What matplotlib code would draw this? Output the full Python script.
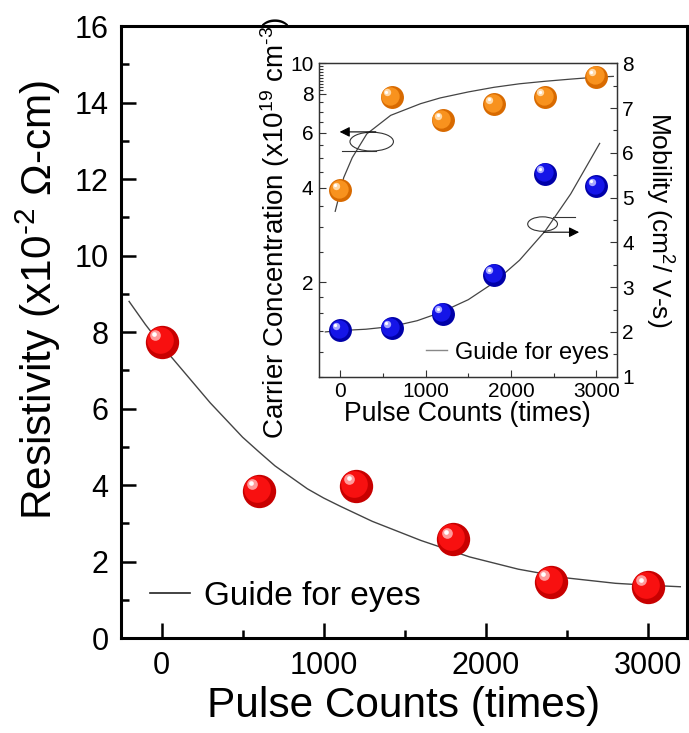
import matplotlib
matplotlib.use("Agg")
import matplotlib.pyplot as plt
from matplotlib.lines import Line2D
from matplotlib.patches import Ellipse
from matplotlib.ticker import MultipleLocator, FixedLocator, FixedFormatter, LogLocator, NullFormatter
from matplotlib.transforms import offset_copy

plt.rcParams['font.family'] = ['Liberation Sans', 'DejaVu Sans']
plt.rcParams['mathtext.fontset'] = 'custom'
plt.rcParams['mathtext.rm'] = 'Liberation Sans'
plt.rcParams['mathtext.it'] = 'Liberation Sans'

# main panel: resistivity
pulses = [0, 600, 1200, 1800, 2400, 3000]
resistivity = [7.75, 3.85, 3.98, 2.58, 1.47, 1.33]
guide_x = [-200, -100, 0, 100, 200, 300, 400, 500, 600, 700, 800, 900, 1000, 1100,
           1300, 1600, 1900, 2200, 2500, 2800, 3000, 3200]
guide_y = [8.8, 8.2, 7.65, 7.15, 6.65, 6.15, 5.7, 5.25, 4.87, 4.5, 4.2, 3.9, 3.66, 3.45,
           3.05, 2.55, 2.12, 1.8, 1.57, 1.43, 1.38, 1.34]

# inset: carrier concentration (log, left) and mobility (right)
carrier = [3.93, 7.8, 6.57, 7.4, 7.8, 9.06]
mobility = [2.04, 2.08, 2.41, 3.28, 5.53, 5.25]
carrier_gx = [-60, 40, 140, 310, 590, 940, 1170, 1500, 1800, 2100, 2400, 2700, 3000, 3200]
carrier_gy = [3.37, 4.32, 5.0, 5.95, 6.82, 7.43, 7.75, 8.1, 8.38, 8.6, 8.76, 8.9, 9.03, 9.08]
mob_gx = [-176, 0, 300, 600, 900, 1170, 1500, 1800, 2100, 2400, 2700, 3040]
mob_gy = [2.0, 2.03, 2.06, 2.12, 2.25, 2.43, 2.72, 3.1, 3.6, 4.25, 5.08, 6.21]


def spheres(ax, x, y, size, base, dark, light):
    fig = ax.figure
    ax.plot(x, y, 'o', ms=size, color=dark, mec='none', zorder=5, clip_on=False)
    sh = offset_copy(ax.transData, fig=fig, x=-size * 0.06, y=size * 0.06, units='points')
    ax.plot(x, y, 'o', ms=size * 0.8, color=base, mec='none', zorder=6, transform=sh, clip_on=False)
    hl = offset_copy(ax.transData, fig=fig, x=-size * 0.2, y=size * 0.2, units='points')
    ax.plot(x, y, 'o', ms=size * 0.32, color=light, mec='none', zorder=7, transform=hl, clip_on=False)
    hl2 = offset_copy(ax.transData, fig=fig, x=-size * 0.22, y=size * 0.22, units='points')
    ax.plot(x, y, 'o', ms=size * 0.14, color='white', mec='none', zorder=8, transform=hl2, clip_on=False)


fig = plt.figure(figsize=(6.89, 7.33), dpi=100)
ax = fig.add_axes([0.1756, 0.1296, 0.8212, 0.8349])

ax.plot(guide_x, guide_y, color='#444444', lw=1.0, zorder=3)
spheres(ax, pulses, resistivity, 24, '#f81010', '#c80000', '#ff9a9a')

ax.set_xlim(-250, 3240)
ax.set_ylim(0, 16)
ax.xaxis.set_major_locator(MultipleLocator(1000))
ax.xaxis.set_minor_locator(MultipleLocator(500))
ax.yaxis.set_major_locator(MultipleLocator(2))
ax.yaxis.set_minor_locator(MultipleLocator(1))
ax.tick_params(which='both', direction='in', width=1.8, labelsize=22, top=False, right=False)
ax.tick_params(which='major', length=11, pad=9)
ax.tick_params(which='minor', length=6)
for s in ax.spines.values():
    s.set_linewidth(2.2)
ax.set_xlabel('Pulse Counts (times)', fontsize=30.5, labelpad=4)
ax.set_ylabel('Resistivity (x10$^{\\mathregular{\u20102}}$ Ω-cm)', fontsize=30.5)
ax.yaxis.set_label_coords(-0.102, 0.552)

ax.legend(handles=[Line2D([], [], color='#222222', lw=1.2)], labels=['Guide for eyes'],
          loc='center left', bbox_to_anchor=(0.051, 0.068), frameon=False, fontsize=24,
          handlelength=1.2, handletextpad=0.42, borderpad=0, borderaxespad=0)

# inset
ins = fig.add_axes([0.4630, 0.4861, 0.4321, 0.4276])
ins.plot(carrier_gx, carrier_gy, color='#444444', lw=0.9, zorder=3)
spheres(ins, pulses, carrier, 16.5, '#f8921e', '#d86a00', '#ffd9a8')
ins.set_yscale('log')
ins.set_ylim(1, 10)
ins.set_xlim(-250, 3240)
ins.yaxis.set_major_locator(FixedLocator([2, 4, 6, 8, 10]))
ins.yaxis.set_major_formatter(FixedFormatter(['2', '4', '6', '8', '10']))
ins.yaxis.set_minor_locator(LogLocator(base=10, subs=[1, 1.2, 1.4, 1.6, 1.8, 2.5, 3, 3.5, 4.5, 5, 5.5,
                                                     6.5, 7, 7.5, 8.2, 8.4, 8.6, 8.8, 9, 9.2, 9.4, 9.6, 9.8]))
ins.yaxis.set_minor_formatter(NullFormatter())
ins.xaxis.set_major_locator(MultipleLocator(1000))
ins.xaxis.set_minor_locator(MultipleLocator(500))
ins.tick_params(which='both', direction='in', width=0.8, labelsize=15, top=False, right=False, color='#333333')
ins.tick_params(which='major', length=5, pad=4)
ins.tick_params(which='minor', length=3)
for s in ins.spines.values():
    s.set_linewidth(0.9)
    s.set_color('#333333')
ins.set_xlabel('Pulse Counts (times)', fontsize=19.2, labelpad=0)
ins.set_ylabel('Carrier Concentration (x10$^{\\mathregular{19}}$ cm$^{\\mathregular{\u20103}}$)', fontsize=20)
ins.yaxis.set_label_coords(-0.092, 0.476)

ins2 = ins.twinx()
ins2.plot(mob_gx, mob_gy, color='#444444', lw=0.9, zorder=3)
spheres(ins2, pulses, mobility, 16.5, '#1515e8', '#0000a8', '#a8a8ff')
ins2.set_ylim(1, 8)
ins2.yaxis.set_major_locator(MultipleLocator(1))
ins2.yaxis.set_minor_locator(MultipleLocator(0.5))
ins2.tick_params(which='both', direction='in', width=0.8, labelsize=15, color='#333333')
ins2.tick_params(which='major', length=5, pad=4)
ins2.tick_params(which='minor', length=3)
for s in ins2.spines.values():
    s.set_linewidth(0.9)
    s.set_color('#333333')
ins2.set_ylabel('Mobility (cm$^{\\mathregular{2}}$/ V-s)', fontsize=19, rotation=270, labelpad=30)
ins2.legend(handles=[Line2D([], [], color='#888888', lw=1.0)], labels=['Guide for eyes'],
            loc='center left', bbox_to_anchor=(0.36, 0.077), frameon=False, fontsize=17,
            handlelength=0.9, handletextpad=0.3, borderpad=0, borderaxespad=0)

# curly arrows pointing to the axes
ins2.add_patch(Ellipse((0.177, 0.75), 0.146, 0.06, transform=ins2.transAxes, fill=False, lw=0.8, ec='#333333'))
ins2.annotate('', xy=(0.06, 0.781), xytext=(0.2, 0.781), xycoords='axes fraction',
              arrowprops=dict(arrowstyle='-|>', color='black', lw=0.8, mutation_scale=15))
ins2.plot([0.077, 0.19], [0.72, 0.72], color='#333333', lw=0.8, transform=ins2.transAxes)
ins2.add_patch(Ellipse((0.751, 0.487), 0.1, 0.046, transform=ins2.transAxes, fill=False, lw=0.8, ec='#333333'))
ins2.plot([0.786, 0.86], [0.51, 0.51], color='#333333', lw=0.8, transform=ins2.transAxes)
ins2.annotate('', xy=(0.883, 0.461), xytext=(0.745, 0.461), xycoords='axes fraction',
              arrowprops=dict(arrowstyle='-|>', color='black', lw=0.8, mutation_scale=15))

fig.savefig('out.png', dpi=100)
